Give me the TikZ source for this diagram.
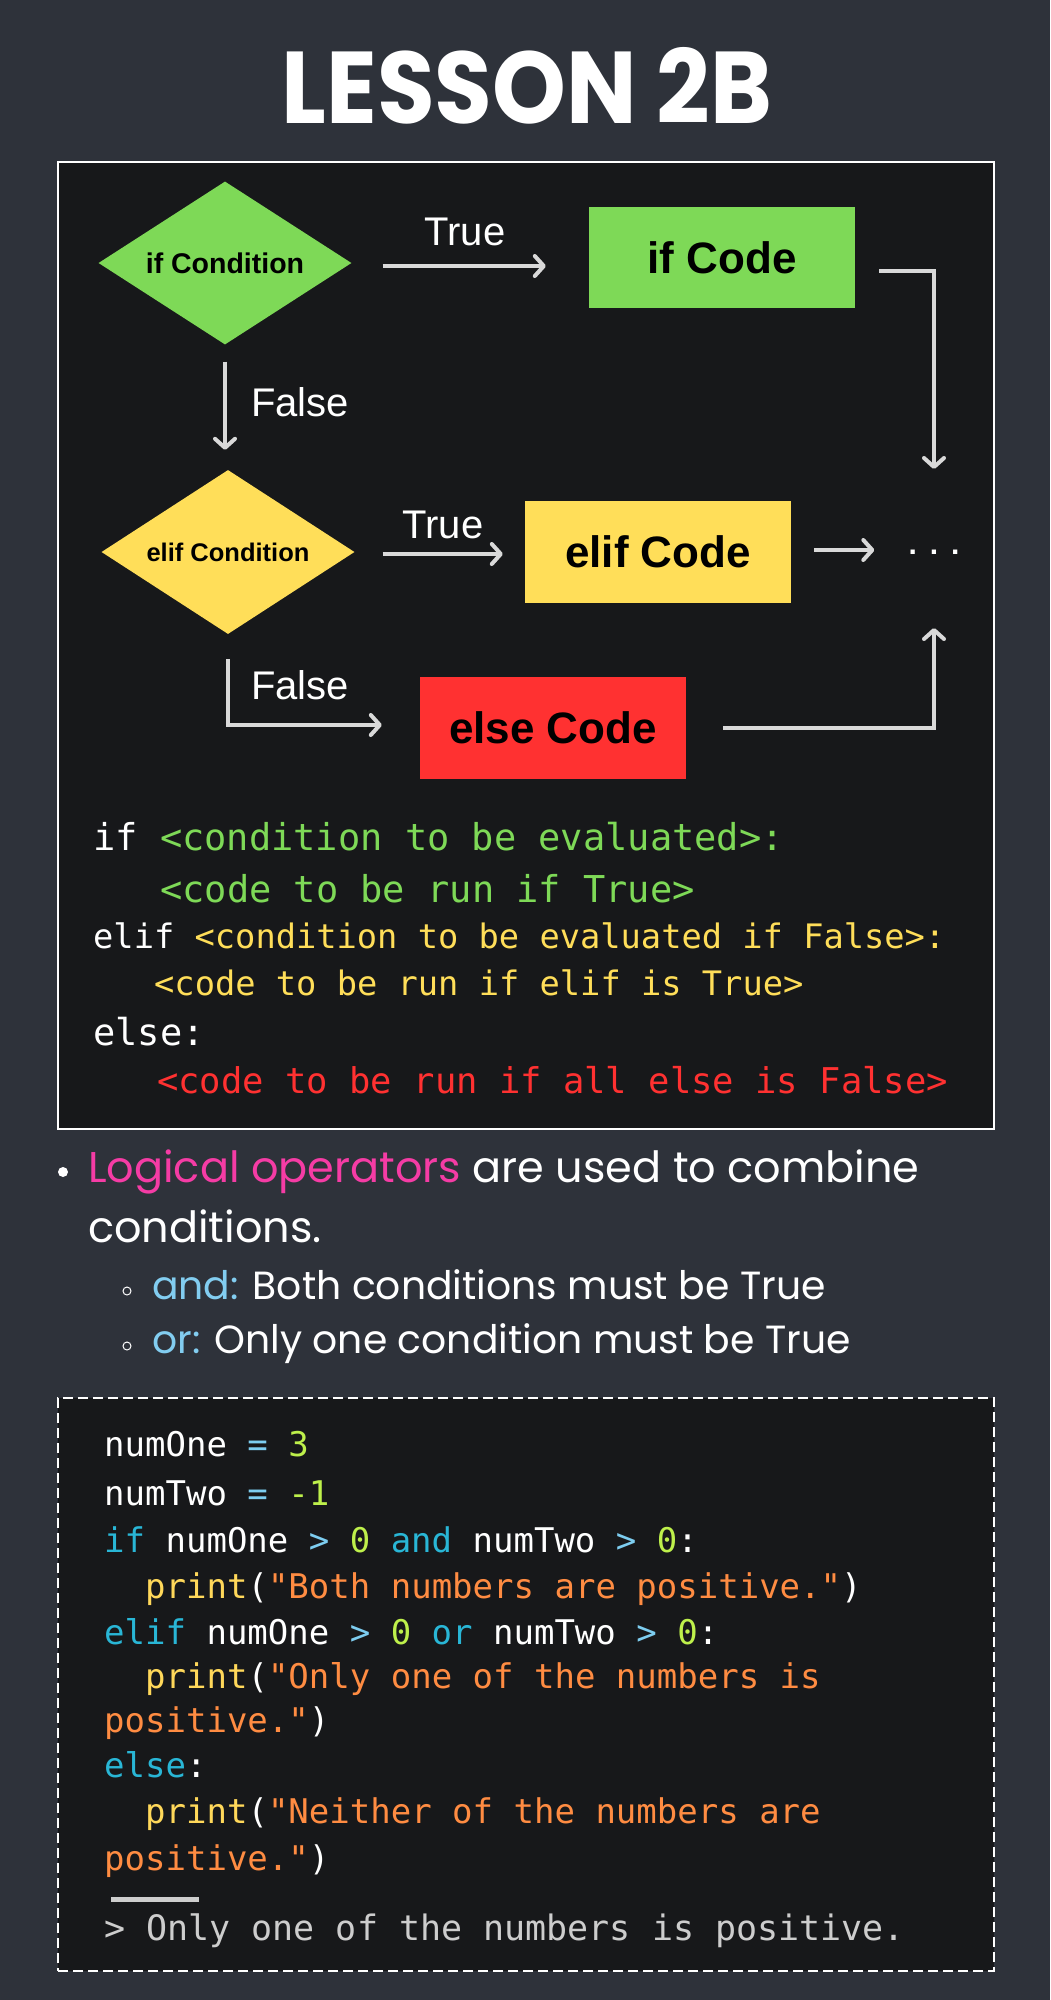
\documentclass[tikz,border=0pt]{standalone}
\usepackage{fontspec}
\usepackage{graphicx}
\usetikzlibrary{shapes.geometric,arrows.meta}
\setmainfont{Liberation Sans}
\newfontfamily\titlefont{Poppins}
\newfontfamily\bodyfont{Poppins}
\newfontfamily\monofont{DejaVu Sans Mono}[Ligatures=TeXOff]
\newcommand\fsz[1]{\fontsize{#1}{#1}\selectfont}
\definecolor{cbg}{RGB}{46,50,58}
\definecolor{cpanel}{RGB}{23,24,26}
\definecolor{cgreen}{RGB}{126,217,87}
\definecolor{cyellow}{RGB}{255,222,89}
\definecolor{cred}{RGB}{255,49,49}
\definecolor{carrow}{RGB}{217,217,217}
\definecolor{cpink}{RGB}{245,60,165}
\definecolor{clblue}{RGB}{130,205,240}
\definecolor{ckw}{RGB}{41,182,214}
\definecolor{cop}{RGB}{125,205,240}
\definecolor{cnum}{RGB}{190,240,75}
\definecolor{cprt}{RGB}{255,216,90}
\definecolor{cstr}{RGB}{255,140,66}
\definecolor{cout}{RGB}{205,205,205}
\tikzset{
  panel/.style={draw=white, line width=2pt, fill=cpanel, minimum width=936pt, anchor=north west, inner sep=0},
  flowarrow/.style={draw=carrow, line width=4pt, -{Straight Barb[length=9pt,width=20pt,round]}},
  lbl/.style={text=white, font=\fsz{40}, anchor=base, inner sep=0},
  decision/.style={diamond, aspect=1.55, inner sep=0, minimum width=253pt, text=black, font=\bfseries},
  codebox/.style={rectangle, inner sep=0, minimum width=266pt, minimum height=101pt, text=black, font=\bfseries\fsz{44}},
  codeA/.style={anchor=base west, inner sep=0, text=white},
  codeB/.style={anchor=base west, inner sep=0, text=white, font=\monofont\fsz{34}},
  bodytxt/.style={anchor=base west, inner sep=0, text=white},
}
\begin{document}
\begin{tikzpicture}[x=1pt,y=1pt]
\useasboundingbox (0,0) rectangle (1050,-2000);
\fill[cbg] (0,0) rectangle (1050,-2000);

% title
\node[anchor=base, inner sep=0, text=white, font=\titlefont\bfseries\fsz{102}] (title) at (527,-123) {\scalebox{0.92}[1]{LESSON 2B}};

% panels
\node[panel, minimum height=967pt] (panel1) at (57,-161) {};
\node[panel, minimum height=573pt, dash pattern=on 10pt off 5pt] (panel2) at (57,-1397) {};

% flowchart nodes
\node[decision, fill=cgreen, minimum height=163pt, font=\bfseries\fsz{28.5}] (ifcond) at (225,-263) {if Condition};
\node[decision, fill=cyellow, minimum height=164pt, font=\bfseries\fsz{25.5}] (elifcond) at (228,-552) {elif Condition};
\node[codebox, fill=cgreen] (ifcode) at (722,-257.5) {if Code};
\node[codebox, fill=cyellow, minimum height=102pt] (elifcode) at (658,-552) {elif Code};
\node[codebox, fill=cred, minimum height=102pt] (elsecode) at (553,-728) {else Code};
\node[inner sep=0, text=white, font=\bfseries\fsz{30}] (dots) at (934,-552) {.\hspace{13pt}.\hspace{13pt}.};

% labels
\node[lbl] (true1) at (465,-245) {True};
\node[lbl] (false1) at (300,-416) {False};
\node[lbl] (true2) at (443,-538) {True};
\node[lbl] (false2) at (300,-699) {False};

% connectors
\draw[flowarrow, shorten <=31pt, shorten >=43pt] ([yshift=-3pt]ifcond.east) -- ([yshift=-3pt]ifcond.east -| ifcode.west);
\draw[flowarrow, shorten <=17pt, shorten >=20pt] (ifcond.south) -- (ifcond.south |- elifcond.north);
\draw[flowarrow, shorten <=28pt, shorten >=22pt] ([yshift=-2pt]elifcond.east) -- ([yshift=-2pt]elifcond.east -| elifcode.west);
\draw[flowarrow, shorten <=23pt, shorten >=34pt] ([yshift=2pt]elifcode.east) -- ([yshift=2pt]elifcode.east -| dots.west);
\draw[flowarrow] ([xshift=24pt,yshift=-13pt]ifcode.east) -| ([yshift=83pt]dots.center);
\draw[flowarrow] ([xshift=37pt]elsecode.east) -| ([yshift=-76pt]dots.center);
\draw[flowarrow] ([yshift=-25pt]elifcond.south) |- ([xshift=-38pt,yshift=3pt]elsecode.west);

% syntax code
\node[codeA, font=\monofont\fsz{37}] (s1) at (93,-850) {if {\color{cgreen}<condition to be evaluated>:}};
\node[codeA, font=\monofont\fsz{37}, text=cgreen] (s2) at (160,-902) {<code to be run if True>};
\node[codeA, font=\monofont\fsz{33.7}] (s3) at (93,-948) {elif {\color{cyellow}<condition to be evaluated if False>:}};
\node[codeA, font=\monofont\fsz{33.7}, text=cyellow] (s4) at (154,-995) {<code to be run if elif is True>};
\node[codeA, font=\monofont\fsz{37}] (s5) at (93,-1045) {else:};
\node[codeA, font=\monofont\fsz{35.5}, text=cred] (s6) at (157,-1093) {<code to be run if all else is False>};

% bullets
\node[circle, fill=white, minimum size=10pt, inner sep=0] (bul1) at (63,-1172) {};
\node[bodytxt, font=\bodyfont\fsz{43}] (b1) at (88,-1182) {{\color{cpink}Logical operators} are used to combine};
\node[bodytxt, font=\bodyfont\fsz{43}] (b2) at (88,-1242) {conditions.};
\node[circle, draw=white, line width=1pt, minimum size=8pt, inner sep=0] (bul2) at (127,-1291) {};
\node[bodytxt, font=\bodyfont\fsz{39.3}] (b3) at (152,-1299) {{\color{clblue}and:} Both conditions must be True};
\node[circle, draw=white, line width=1pt, minimum size=8pt, inner sep=0] (bul3) at (127,-1346) {};
\node[bodytxt, font=\bodyfont\fsz{39.3}] (b4) at (152,-1353) {{\color{clblue}or:} Only one condition must be True};

% example code
\node[codeB] (c1) at (104,-1456) {numOne {\color{cop}=} {\color{cnum}3}};
\node[codeB] (c2) at (104,-1505) {numTwo {\color{cop}=} {\color{cnum}-1}};
\node[codeB] (c3) at (104,-1552) {{\color{ckw}if} numOne {\color{cop}>} {\color{cnum}0} {\color{ckw}and} numTwo {\color{cop}>} {\color{cnum}0}:};
\node[codeB] (c4) at (145,-1598) {{\color{cprt}print}({\color{cstr}"Both numbers are positive."})};
\node[codeB] (c5) at (104,-1644) {{\color{ckw}elif} numOne {\color{cop}>} {\color{cnum}0} {\color{ckw}or} numTwo {\color{cop}>} {\color{cnum}0}:};
\node[codeB] (c6) at (145,-1688) {{\color{cprt}print}({\color{cstr}"Only one of the numbers is}};
\node[codeB] (c7) at (104,-1732) {{\color{cstr}positive."})};
\node[codeB] (c8) at (104,-1777) {{\color{ckw}else}:};
\node[codeB] (c9) at (145,-1823) {{\color{cprt}print}({\color{cstr}"Neither of the numbers are}};
\node[codeB] (c10) at (104,-1870) {{\color{cstr}positive."})};
\fill[cout] (111,-1896.5) rectangle (199,-1901.5);
\node[codeB, font=\monofont\fsz{35}, text=cout] (out) at (104,-1940) {> Only one of the numbers is positive.};
\end{tikzpicture}
\end{document}
